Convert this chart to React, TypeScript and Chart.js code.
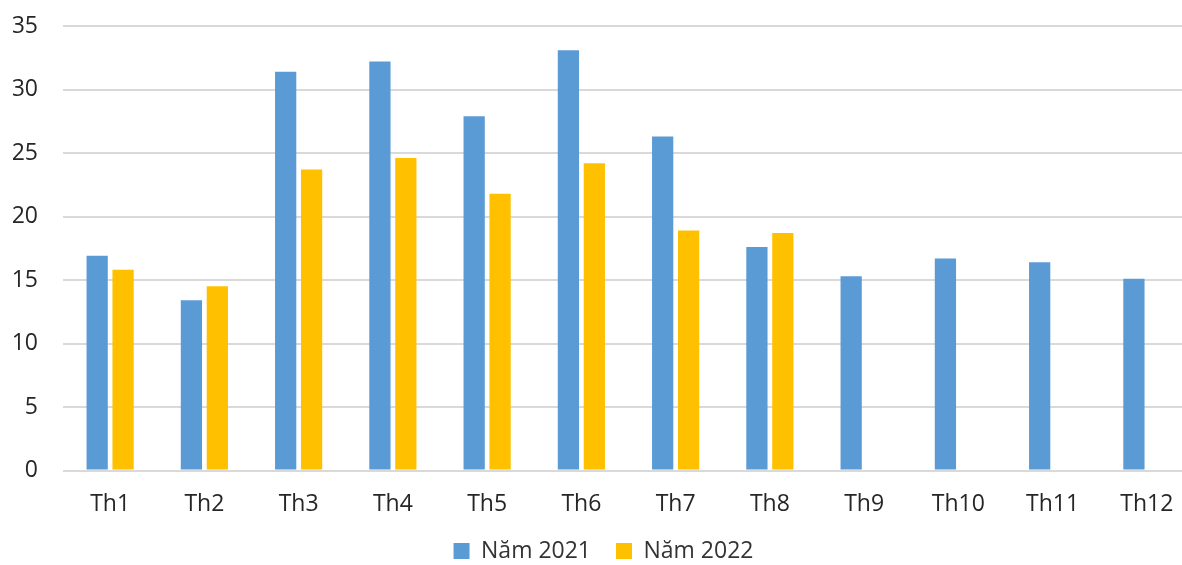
import React, { useEffect, useRef } from "react";
import { Chart, registerables } from "chart.js";

Chart.register(...registerables);

const categories = ["Th1", "Th2", "Th3", "Th4", "Th5", "Th6", "Th7", "Th8", "Th9", "Th10", "Th11", "Th12"];
const series2021 = [16.9, 13.4, 31.4, 32.2, 27.9, 33.1, 26.3, 17.6, 15.3, 16.7, 16.4, 15.1];
const series2022 = [15.8, 14.5, 23.7, 24.6, 21.8, 24.2, 18.9, 18.7, null, null, null, null];
const seriesNames = ["Năm 2021", "Năm 2022"];
const colors = ["#5B9BD5", "#FFC000"];
const yTickStep = 5;
const yMax = 35;

export default function App() {
  const ref = useRef<HTMLCanvasElement | null>(null);
  useEffect(() => {
    if (!ref.current) return;
    const font = "'Open Sans', sans-serif";
    const chart = new Chart(ref.current, {
      type: "bar",
      data: {
        labels: categories,
        datasets: [
          { label: seriesNames[0], data: series2021, backgroundColor: colors[0], borderWidth: 0 },
          { label: seriesNames[1], data: series2022 as any, backgroundColor: colors[1], borderWidth: 0 },
        ],
      },
      options: {
        animation: false,
        responsive: false,
        maintainAspectRatio: false,
        layout: { padding: { left: 13, right: 0, top: 26, bottom: -7.5 } },
        datasets: { bar: { categoryPercentage: 0.55, barPercentage: 0.82 } },
        plugins: {
          tooltip: { enabled: false },
          legend: {
            position: "bottom",
            labels: {
              font: { family: font, size: 23 },
              color: "#333333",
              boxWidth: 16,
              boxHeight: 16,
              padding: 25,
            },
          },
        },
        scales: {
          x: {
            grid: { display: false },
            border: { display: false },
            ticks: { font: { family: font, size: 23 }, color: "#262626", padding: 12, maxRotation: 0 },
            afterFit: (s: any) => { s.height = 44; },
          },
          y: {
            min: 0,
            max: yMax,
            border: { display: false },
            grid: { color: "#D9D9D9", lineWidth: 2, drawTicks: false },
            ticks: { stepSize: yTickStep, font: { family: font, size: 23 }, color: "#262626", padding: 25 },
            afterFit: (s: any) => { s.width = 50; s.paddingTop = 0; s.paddingBottom = 0; },
          },
        },
      },
    });
    return () => chart.destroy();
  }, []);
  return (
    <div style={{ position: "fixed", left: 0, top: 0, width: 1182, height: 565, overflow: "hidden", background: "#fff" }}>
      <canvas ref={ref} width={1194} height={565} style={{ width: 1194, height: 565, display: "block" }} />
    </div>
  );
}
